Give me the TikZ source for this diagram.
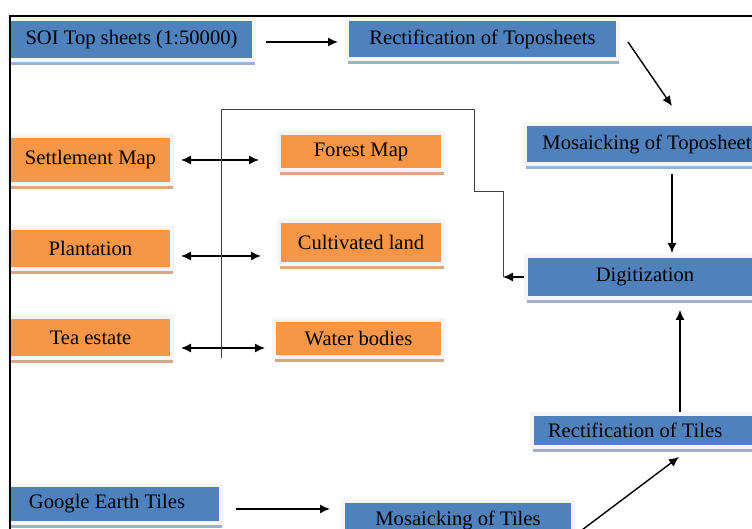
\documentclass[tikz,border=0pt]{standalone}
\usepackage{fontspec}
\setmainfont{Liberation Serif}
\definecolor{soi_blue}{RGB}{79, 129, 189}
\definecolor{soi_orange}{RGB}{247, 150, 70}
\definecolor{soi_blueshade}{RGB}{160, 176, 204}
\definecolor{soi_tan}{RGB}{214, 168, 134}
\usetikzlibrary{arrows.meta, positioning, shadows, calc}

\begin{document}
\begin{tikzpicture}[x=0.5pt, y=-0.5pt, font=\fontsize{10.3}{12}\selectfont,
        bb/.style={fill=soi_blue, draw=gray!8, line width=2pt, inner sep=0pt,
                   drop shadow={shadow xshift=0.5pt, shadow yshift=-2.5pt,
                                fill=soi_blueshade, opacity=1}},
        ob/.style={fill=soi_orange, draw=gray!8, line width=2pt, inner sep=0pt,
                   drop shadow={shadow xshift=0.5pt, shadow yshift=-2.5pt,
                                fill=soi_tan, opacity=1}},
        arr/.style={-{Latex[length=5pt, width=4.5pt]}, line width=0.7pt},
        dbl/.style={{Latex[length=5pt, width=4.5pt]}-{Latex[length=5pt, width=4.5pt]}, line width=0.7pt},
        bus/.style={line width=0.5pt, black!75}]
        \useasboundingbox (0,0) rectangle (752,529);
        \clip (0,0) rectangle (752,529);
        % Toposheet chain
        \node[bb, minimum width=122.5pt, minimum height=20.5pt] (soi) at (131.5,39.5)
          {SOI Top sheets (1:50000)};
        \node[bb, minimum width=135.5pt, minimum height=20pt] (rtopo) at (482.5,39)
          {Rectification of Toposheets};
        \node[bb, minimum width=126pt, minimum height=20pt] (mtopo) at (651,144)
          {Mosaicking of Toposheets};
        \node[bb, minimum width=119pt, minimum height=21pt] (digit) at (645,277)
          {Digitization};
        % Tiles chain
        \node[bb, minimum height=16.5pt, inner xsep=8pt, text width=114pt,
              align=flush left] (rtiles) at (662,430.5) {Rectification of Tiles};
        \node[bb, minimum width=115pt, minimum height=19pt] (mtiles) at (458,520)
          {Mosaicking of Tiles};
        \node[bb, minimum height=19pt, inner xsep=10pt, text width=86pt,
              align=flush left] (google) at (115,504) {Google Earth Tiles};
        % Land use classes
        \node[ob, minimum width=81.5pt, minimum height=24pt] (settle) at (90.5,160)
          {Settlement Map};
        \node[ob, minimum width=81.5pt, minimum height=20.5pt] (plant) at (90.5,248.5)
          {Plantation};
        \node[ob, minimum width=81.5pt, minimum height=20.5pt] (tea) at (90.5,337.5)
          {Tea estate};
        \node[ob, minimum width=82pt, minimum height=18.5pt] (forest) at (361,151.5)
          {Forest Map};
        \node[ob, minimum width=82pt, minimum height=21.5pt] (cult) at (361,242.5)
          {Cultivated land};
        \node[ob, minimum width=84.5pt, minimum height=18.5pt] (water) at (358.5,338.5)
          {Water bodies};
        % Arrows
        \draw[arr, shorten <=5pt, shorten >=3.5pt] ([yshift=-1.25pt]soi.east)
          -- ([yshift=-1.25pt]soi.east -| rtopo.west);
        \draw[arr] ([xshift=4pt, yshift=-1.5pt]rtopo.east)
          -- ([xshift=10.5pt, yshift=8pt]mtopo.north);
        \draw[arr] ([xshift=10.5pt, yshift=-4pt]mtopo.south)
          -- ([xshift=10.5pt, yshift=0.5pt]mtopo.south |- digit.north);
        \draw[arr, shorten >=5pt] ([xshift=9pt]rtiles.north)
          -- ([xshift=9pt]rtiles.north |- digit.south);
        \draw[arr, shorten <=6.5pt, shorten >=5.5pt] ([yshift=-2.5pt]google.east)
          -- ([yshift=-2.5pt]google.east -| mtiles.west);
        \draw[arr] ([xshift=3.5pt, yshift=-5pt]mtiles.east)
          -- ([xshift=8.5pt, yshift=-4pt]rtiles.south);
        % Class links
        \draw[dbl, shorten <=3.5pt, shorten >=9pt] (settle.east) -- (settle.east -| forest.west);
        \draw[dbl, shorten <=3.5pt, shorten >=8pt] ([yshift=-3.75pt]plant.east)
          -- ([yshift=-3.75pt]plant.east -| cult.west);
        \draw[dbl, shorten <=3.5pt, shorten >=3.5pt] ([yshift=-5.25pt]tea.east)
          -- ([yshift=-5.25pt]tea.east -| water.west);
        % Feedback line
        \coordinate (jn) at (503,277);
        \coordinate (stem) at (221,358);
        \coordinate (elbow) at (474,192);
        \draw[arr] (digit.west) -- (jn);
        \draw[bus] (stem) -- (221,110) -| (elbow) -| (jn);
        % Frame
        \draw[line width=1pt] (10.5,529) -- (10.5,16.5) -- (752,16.5);
      \end{tikzpicture}
\end{document}
